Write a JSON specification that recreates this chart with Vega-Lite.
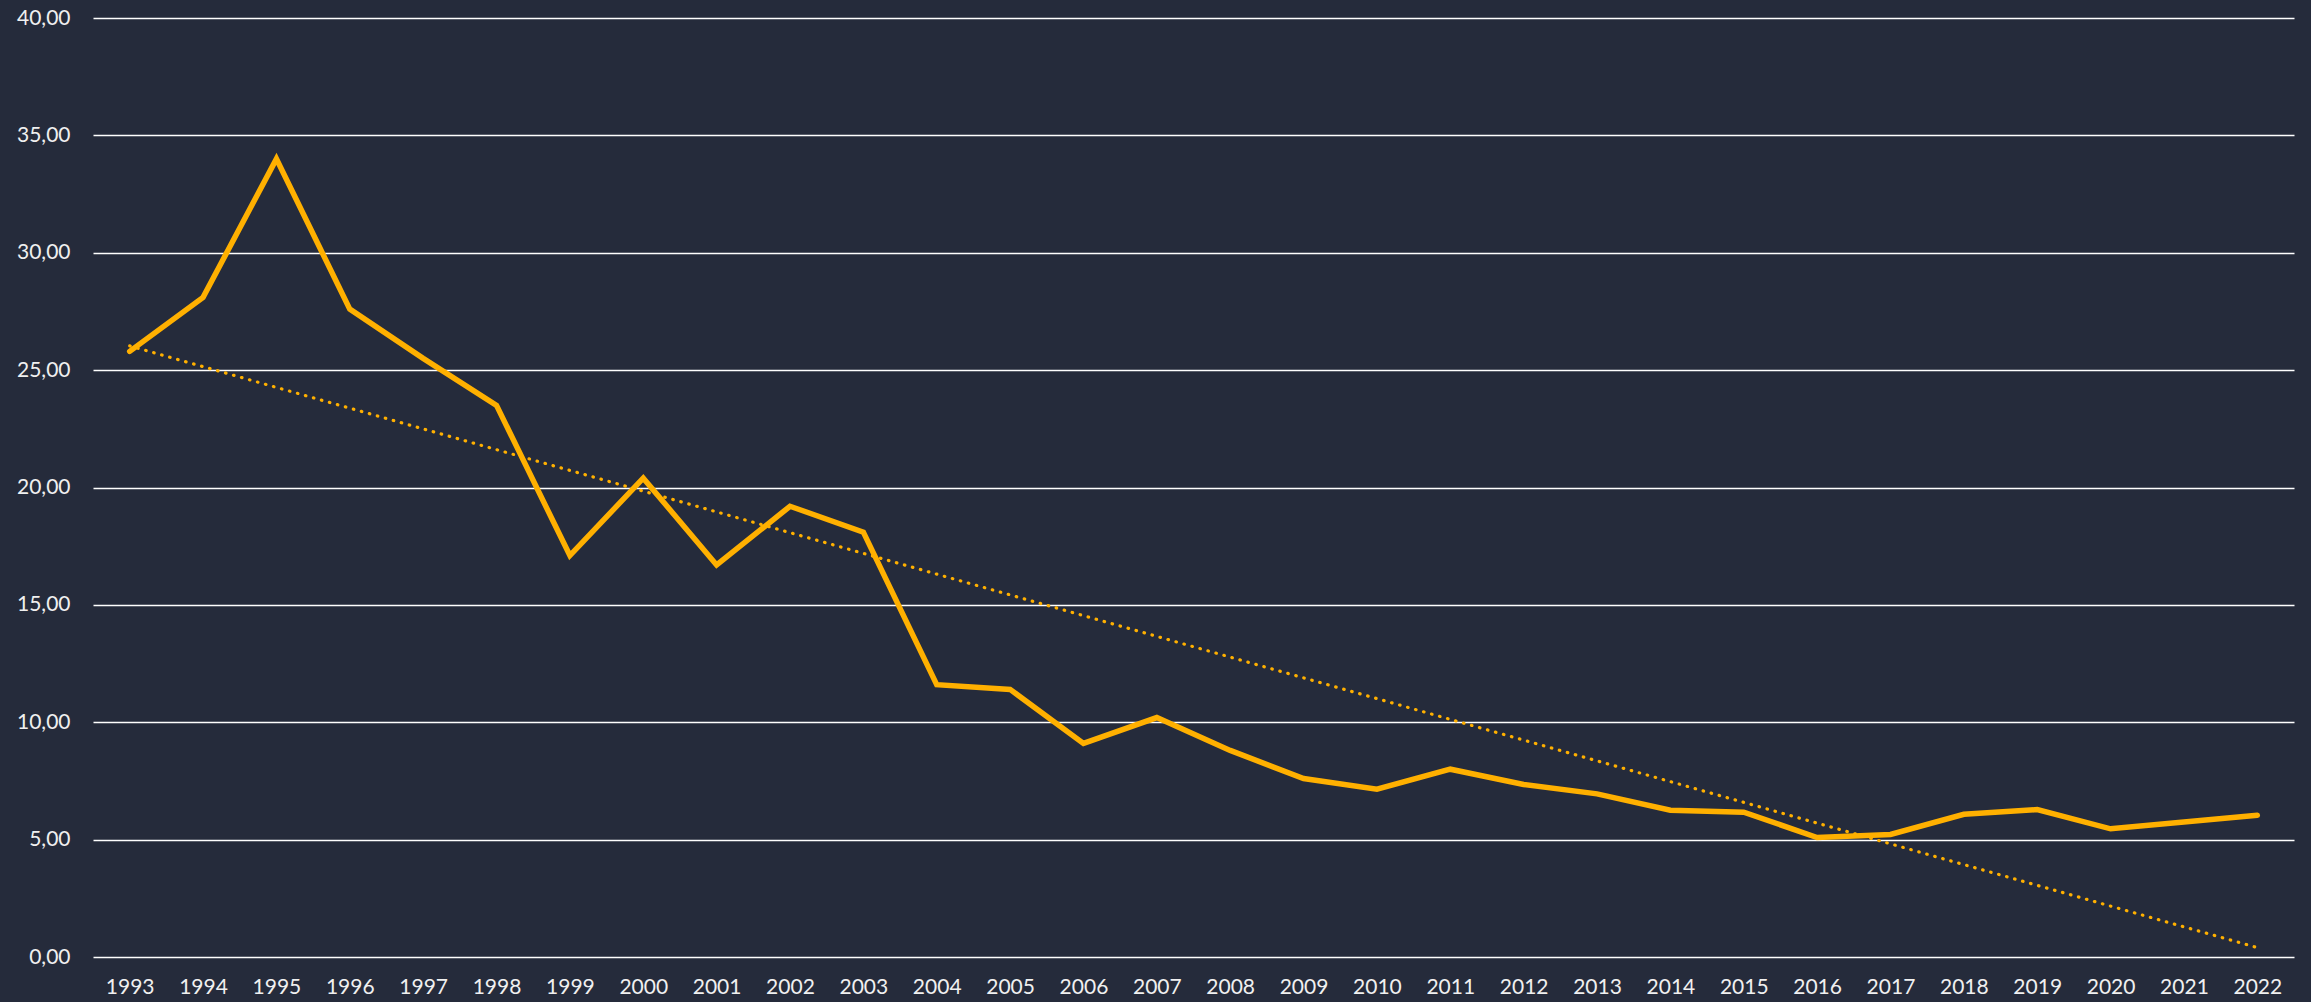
{
  "$schema": "https://vega.github.io/schema/vega-lite/v6.json",
  "autosize": {"type": "none"},
  "padding": {"left": 93, "top": 18, "right": 17, "bottom": 45},
  "width": 2201,
  "height": 939,
  "background": "#252b3b",
  "config": {
    "view": {"stroke": null},
    "locale": {"number": {"decimal": ",", "thousands": ".", "grouping": [3], "currency": ["", " €"]}},
    "axis": {"labelFont": "Lato", "labelFontSize": 21, "labelColor": "#f0f0f0"}
  },
  "data": {"values": [
    {"year": 1993, "value": 25.8},
    {"year": 1994, "value": 28.1},
    {"year": 1995, "value": 34.0},
    {"year": 1996, "value": 27.6},
    {"year": 1997, "value": 25.5},
    {"year": 1998, "value": 23.5},
    {"year": 1999, "value": 17.1},
    {"year": 2000, "value": 20.4},
    {"year": 2001, "value": 16.7},
    {"year": 2002, "value": 19.2},
    {"year": 2003, "value": 18.1},
    {"year": 2004, "value": 11.6},
    {"year": 2005, "value": 11.4},
    {"year": 2006, "value": 9.1},
    {"year": 2007, "value": 10.2},
    {"year": 2008, "value": 8.8},
    {"year": 2009, "value": 7.6},
    {"year": 2010, "value": 7.15},
    {"year": 2011, "value": 8.0},
    {"year": 2012, "value": 7.35},
    {"year": 2013, "value": 6.95},
    {"year": 2014, "value": 6.25},
    {"year": 2015, "value": 6.17},
    {"year": 2016, "value": 5.09},
    {"year": 2017, "value": 5.22},
    {"year": 2018, "value": 6.08},
    {"year": 2019, "value": 6.28},
    {"year": 2020, "value": 5.46},
    {"year": 2021, "value": 5.75},
    {"year": 2022, "value": 6.04}
  ]},
  "encoding": {
    "x": {"field": "year", "type": "ordinal",
      "scale": {"type": "point", "padding": 0.5},
      "axis": {"title": null, "labelAngle": 0, "ticks": false, "domain": false, "grid": false, "labelPadding": 19}},
    "y": {"field": "value", "type": "quantitative",
      "scale": {"domain": [0, 40], "nice": false, "zero": true},
      "axis": {"title": null, "values": [0, 5, 10, 15, 20, 25, 30, 35, 40], "format": ".2f",
        "ticks": false, "domain": false, "grid": true, "gridColor": "#ffffff", "gridWidth": 1.6, "gridOpacity": 1,
        "labelPadding": 23}}
  },
  "layer": [
    {
      "transform": [{"regression": "value", "on": "year", "method": "linear"}],
      "mark": {"type": "line", "color": "#ffb000", "strokeWidth": 3.2, "strokeCap": "round", "strokeDash": [0.5, 7.8]}
    },
    {
      "mark": {"type": "line", "color": "#ffb000", "strokeWidth": 5.5, "strokeJoin": "miter", "strokeCap": "round"}
    }
  ]
}
